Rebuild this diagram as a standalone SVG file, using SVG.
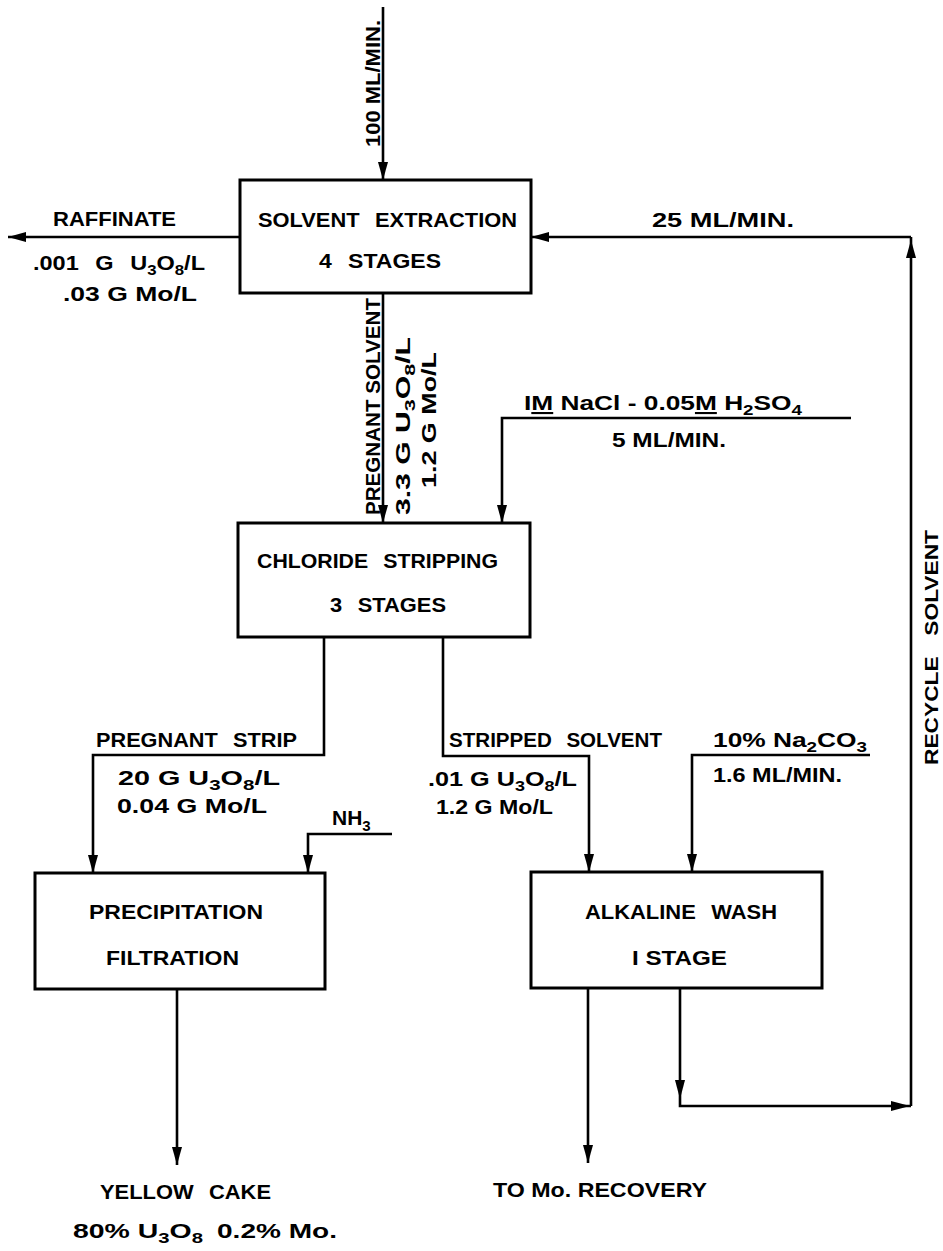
<svg xmlns="http://www.w3.org/2000/svg" width="943" height="1251" viewBox="0 0 943 1251">
<style>
.bx{fill:#fff;stroke:#000;stroke-width:3}
.ln{fill:none;stroke:#000;stroke-width:2.6}
text{font-family:"Liberation Sans",Arial,sans-serif;font-weight:bold;font-size:21px;fill:#000}
.sub{font-size:15px}
.u{text-decoration:underline}
.ws{word-spacing:9px}
</style>
<defs>
<marker id="ah" viewBox="0 0 18 10" refX="18" refY="5" markerWidth="18" markerHeight="10" markerUnits="userSpaceOnUse" orient="auto">
<path d="M0,0 L18,5 L0,10 z" fill="#000"/>
</marker>
</defs>
<rect width="943" height="1251" fill="#fff"/>
<g id="connectors">
<path class="ln" d="M383,7 V180" marker-end="url(#ah)"/>
<path class="ln" d="M240,237 H8" marker-end="url(#ah)"/>
<path class="ln" d="M911,237 H531" marker-end="url(#ah)"/>
<path class="ln" d="M911,1106 V237"/>
<path d="M906,258 L911,240 L916,258 z" fill="#000"/>
<path class="ln" d="M383,293 V523" marker-end="url(#ah)"/>
<path class="ln" d="M851,418 H502 V523" marker-end="url(#ah)"/>
<path class="ln" d="M324,637 V755 H93 V873" marker-end="url(#ah)"/>
<path class="ln" d="M392,834 H308 V873" marker-end="url(#ah)"/>
<path class="ln" d="M443,637 V756 H589 V872" marker-end="url(#ah)"/>
<path class="ln" d="M870,755 H692 V872" marker-end="url(#ah)"/>
<path class="ln" d="M177,990 V1165" marker-end="url(#ah)"/>
<path class="ln" d="M588,988 V1163" marker-end="url(#ah)"/>
<path class="ln" d="M680,988 V1106 H911"/>
<path d="M675,1080 L680,1099 L685,1080 z" fill="#000"/>
<path d="M891,1101 L910,1106 L891,1111 z" fill="#000"/>
</g>
<g id="labels">
<text transform="translate(380,147) rotate(-90)" textLength="127" lengthAdjust="spacingAndGlyphs">100 ML/MIN.</text>
<text x="53" y="226" textLength="123" lengthAdjust="spacingAndGlyphs">RAFFINATE</text>
<text class="ws" x="33" y="270" textLength="172" lengthAdjust="spacingAndGlyphs">.001 G U<tspan class="sub" dy="5">3</tspan><tspan dy="-5">O</tspan><tspan class="sub" dy="5">8</tspan><tspan dy="-5">/L</tspan></text>
<text x="63" y="301" textLength="134" lengthAdjust="spacingAndGlyphs">.03 G Mo/L</text>
<text x="652" y="227" textLength="142" lengthAdjust="spacingAndGlyphs">25 ML/MIN.</text>
<text transform="translate(380,515) rotate(-90)" textLength="217" lengthAdjust="spacingAndGlyphs">PREGNANT SOLVENT</text>
<text transform="translate(410,515) rotate(-90)" textLength="178" lengthAdjust="spacingAndGlyphs">3.3 G U<tspan class="sub" dy="5">3</tspan><tspan dy="-5">O</tspan><tspan class="sub" dy="5">8</tspan><tspan dy="-5">/L</tspan></text>
<text transform="translate(436,488) rotate(-90)" textLength="136" lengthAdjust="spacingAndGlyphs">1.2 G Mo/L</text>
<text x="524" y="410" textLength="278" lengthAdjust="spacingAndGlyphs">I<tspan class="u">M</tspan> NaCl - 0.05<tspan class="u">M</tspan> H<tspan class="sub" dy="5">2</tspan><tspan dy="-5">SO</tspan><tspan class="sub" dy="5">4</tspan></text>
<text x="612" y="447" textLength="114" lengthAdjust="spacingAndGlyphs">5 ML/MIN.</text>
<text class="ws" x="96" y="747" textLength="201" lengthAdjust="spacingAndGlyphs">PREGNANT STRIP</text>
<text x="118" y="785" textLength="162" lengthAdjust="spacingAndGlyphs">20 G U<tspan class="sub" dy="5">3</tspan><tspan dy="-5">O</tspan><tspan class="sub" dy="5">8</tspan><tspan dy="-5">/L</tspan></text>
<text x="117" y="813" textLength="150" lengthAdjust="spacingAndGlyphs">0.04 G Mo/L</text>
<text x="332" y="825">NH<tspan class="sub" dy="6">3</tspan></text>
<text class="ws" x="449" y="747" textLength="213" lengthAdjust="spacingAndGlyphs">STRIPPED SOLVENT</text>
<text x="428" y="786" textLength="149" lengthAdjust="spacingAndGlyphs">.01 G U<tspan class="sub" dy="5">3</tspan><tspan dy="-5">O</tspan><tspan class="sub" dy="5">8</tspan><tspan dy="-5">/L</tspan></text>
<text x="436" y="814" textLength="117" lengthAdjust="spacingAndGlyphs">1.2 G Mo/L</text>
<text x="713" y="747" textLength="154" lengthAdjust="spacingAndGlyphs">10% Na<tspan class="sub" dy="5">2</tspan><tspan dy="-5">CO</tspan><tspan class="sub" dy="5">3</tspan></text>
<text x="713" y="782" textLength="129" lengthAdjust="spacingAndGlyphs">1.6 ML/MIN.</text>
<text transform="translate(938,765) rotate(-90)" style="font-size:19px;word-spacing:12px" textLength="235" lengthAdjust="spacingAndGlyphs">RECYCLE SOLVENT</text>
<text class="ws" x="100" y="1199" textLength="171" lengthAdjust="spacingAndGlyphs">YELLOW CAKE</text>
<text x="73" y="1238" textLength="130" lengthAdjust="spacingAndGlyphs">80% U<tspan class="sub" dy="5">3</tspan><tspan dy="-5">O</tspan><tspan class="sub" dy="5">8</tspan></text>
<text x="217" y="1238" textLength="120" lengthAdjust="spacingAndGlyphs">0.2% Mo.</text>
<text x="493" y="1197" textLength="214" lengthAdjust="spacingAndGlyphs">TO Mo. RECOVERY</text>
</g>
<g id="solvent-extraction">
<rect class="bx" x="240" y="180" width="291" height="113"/>
<text class="ws" x="258" y="227" textLength="259" lengthAdjust="spacingAndGlyphs">SOLVENT EXTRACTION</text>
<text class="ws" x="319" y="268" textLength="122" lengthAdjust="spacingAndGlyphs">4 STAGES</text>
</g>
<g id="chloride-stripping">
<rect class="bx" x="238" y="523" width="292" height="114"/>
<text class="ws" x="257" y="568" textLength="241" lengthAdjust="spacingAndGlyphs">CHLORIDE STRIPPING</text>
<text class="ws" x="330" y="612" textLength="116" lengthAdjust="spacingAndGlyphs">3 STAGES</text>
</g>
<g id="precipitation-filtration">
<rect class="bx" x="35" y="873" width="290" height="116"/>
<text x="89" y="919" textLength="174" lengthAdjust="spacingAndGlyphs">PRECIPITATION</text>
<text x="106" y="965" textLength="133" lengthAdjust="spacingAndGlyphs">FILTRATION</text>
</g>
<g id="alkaline-wash">
<rect class="bx" x="531" y="872" width="291" height="116"/>
<text class="ws" x="585" y="919" textLength="192" lengthAdjust="spacingAndGlyphs">ALKALINE WASH</text>
<text x="632" y="965" textLength="95" lengthAdjust="spacingAndGlyphs">I STAGE</text>
</g>
</svg>
